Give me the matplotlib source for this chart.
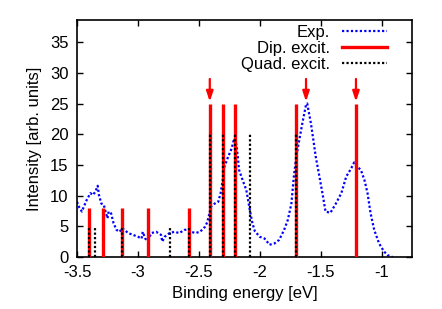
import matplotlib
matplotlib.use("Agg")
import matplotlib.pyplot as plt
import numpy as np

plt.rcParams['font.family'] = ['Liberation Sans', 'DejaVu Sans']

exp_x = [-3.50, -3.48, -3.46, -3.45, -3.42, -3.39, -3.37, -3.35, -3.33, -3.32,
         -3.30, -3.28, -3.27, -3.25, -3.24, -3.22, -3.20, -3.175, -3.15, -3.13,
         -3.11, -3.08, -3.04, -3.00, -2.97, -2.96, -2.94, -2.92, -2.89, -2.85,
         -2.81, -2.80, -2.78, -2.74, -2.70, -2.66, -2.62, -2.59, -2.56, -2.53,
         -2.49, -2.45, -2.43, -2.40, -2.37, -2.34, -2.32, -2.30, -2.29, -2.26,
         -2.23, -2.21, -2.19, -2.18, -2.17, -2.14, -2.11, -2.08, -2.06, -2.04,
         -2.00, -1.96, -1.92, -1.88, -1.84, -1.80, -1.77, -1.74, -1.72, -1.70,
         -1.675, -1.65, -1.62, -1.61, -1.60, -1.58, -1.56, -1.54, -1.51, -1.48,
         -1.46, -1.42, -1.375, -1.33, -1.29, -1.25, -1.225, -1.20, -1.17, -1.14,
         -1.115, -1.09, -1.06, -1.02, -0.98, -0.95, -0.91]
exp_y = [9.0, 8.0, 7.4, 7.9, 9.3, 10.4, 10.1, 10.6, 11.6, 10.1,
         8.7, 8.5, 7.7, 6.3, 7.4, 7.1, 5.5, 4.4, 4.1, 4.7,
         4.4, 3.9, 3.6, 3.3, 3.0, 4.1, 3.0, 2.6, 3.9, 4.1,
         3.6, 2.5, 3.3, 3.9, 4.1, 3.9, 4.4, 4.5, 4.1, 3.9,
         4.1, 4.9, 5.7, 8.2, 8.7, 9.0, 10.5, 13.0, 14.7, 16.3,
         17.7, 19.3, 18.2, 16.3, 14.2, 12.5, 10.9, 7.5, 5.5, 4.2,
         3.3, 3.0, 2.0, 2.2, 2.8, 4.4, 6.0, 8.7, 13.1, 16.3,
         19.1, 21.8, 24.8, 25.0, 23.9, 21.8, 19.1, 16.3, 13.1, 9.8,
         7.4, 7.2, 8.7, 10.4, 13.1, 14.4, 15.4, 14.7, 14.2, 12.5,
         10.4, 7.1, 4.4, 2.2, 0.9, 0.3, 0.0]

dip_x = [-3.40, -3.29, -3.13, -2.92, -2.58, -2.41, -2.30, -2.20, -1.70, -1.21]
dip_y = [8, 8, 8, 8, 8, 25, 25, 25, 25, 25]

quad_x = [-3.40, -3.35, -3.13, -2.74, -2.58, -2.41, -2.30, -2.20, -2.08, -1.70]
quad_y = [5, 5, 5, 5, 5, 20, 20, 20, 20, 20]

arrow_x = [-2.41, -1.62, -1.21]
arrow_top = 29.0
arrow_tip = 25.3

xticks = [-3.5, -3, -2.5, -2, -1.5, -1]
xticklabels = ['-3.5', '-3', '-2.5', '-2', '-1.5', '-1']
yticks = [0, 5, 10, 15, 20, 25, 30, 35]

fig = plt.figure(figsize=(4.42, 3.09), dpi=100)
ax = fig.add_axes([77/442, 52/309, 335/442, 237/309])

ax.plot(exp_x, exp_y, color='#0000ff', linestyle=(0, (1, 1)), linewidth=1.6,
        label='Exp.', zorder=2)
ax.vlines(dip_x, 0, dip_y, color='#ff0000', linewidth=2.4, zorder=3)
ax.vlines(quad_x, 0, quad_y, color='black', linewidth=1.6,
          linestyles=[(0, (1, 1))], zorder=4)
for xa in arrow_x:
    ax.annotate('', xy=(xa, arrow_tip), xytext=(xa, arrow_top),
                arrowprops=dict(arrowstyle='-|>,head_length=0.6,head_width=0.2',
                                color='#ff0000', lw=1.6, shrinkA=0, shrinkB=0),
                zorder=5)

# legend proxies
ax.plot([], [], color='#ff0000', linewidth=2.4, label='Dip. excit.')
ax.plot([], [], color='black', linewidth=1.6, linestyle=(0, (1, 1)), label='Quad. excit.')

ax.set_xlim(-3.5, -0.75)
ax.set_ylim(0, 38.6)
ax.set_xticks(xticks)
ax.set_xticklabels(xticklabels)
ax.set_yticks(yticks)
ax.tick_params(direction='in', top=True, right=True, length=4, width=1,
               labelsize=12, pad=6)
for s in ax.spines.values():
    s.set_linewidth(1.2)

ax.set_xlabel('Binding energy [eV]', fontsize=12, labelpad=4)
ax.set_ylabel('Intensity [arb. units]', fontsize=12, labelpad=6)

ax.legend(loc='upper right', bbox_to_anchor=(0.94, 1.0), frameon=False,
          markerfirst=False, fontsize=12, handlelength=2.7, handletextpad=0.7,
          labelspacing=0.05, borderaxespad=0.1, borderpad=0.2)

fig.savefig('out.png', dpi=100)
